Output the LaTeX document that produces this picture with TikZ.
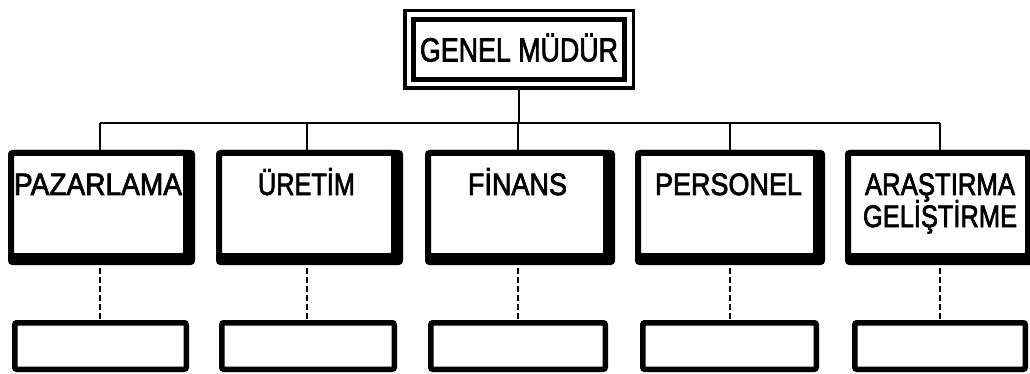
\documentclass[tikz,border=0pt]{standalone}
\usepackage{graphicx}
\usepackage{fontspec}
\setmainfont{Liberation Sans}
\newfontfamily\lsn[FakeBold=2.5]{Liberation Sans}
\newcommand\fitw[2]{\resizebox{#1}{\height}{#2}}
\usetikzlibrary{backgrounds,calc}
\begin{document}
\begin{tikzpicture}[x=1pt,y=-1pt,
  dept/.style={draw, fill=white, line width=6pt, rounded corners=3pt, minimum height=103pt, inner sep=0pt},
  sub/.style={draw, fill=white, line width=5.5pt, rounded corners=2pt, minimum height=46.5pt, inner sep=0pt},
  lbl/.style={font=\lsn\fontsize{31}{32}\selectfont, anchor=base, inner sep=0pt},
  link/.style={line width=2.2pt},
  dlink/.style={line width=2.4pt, dash pattern=on 6pt off 3pt}]
\useasboundingbox (0,0) rectangle (1030,374);

% top box
\node[draw, line width=3.5pt, minimum width=228.5pt, minimum height=77.5pt, inner sep=0pt,
      font=\lsn\fontsize{33.5}{34}\selectfont, text height=24pt, text depth=0pt] (gm) at (519,49.5) {\fitw{198pt}{GENEL MÜDÜR}};
\draw[line width=5pt] ([shift={(10.5pt,-10.5pt)}]gm.north west) rectangle ([shift={(-10.5pt,10.5pt)}]gm.south east);

% department boxes
\node[dept, minimum width=175pt] (p1) at (98.5,204.5) {};
\node[dept, minimum width=175pt] (p2) at (306.5,204.5) {};
\node[dept, minimum width=178pt] (p3) at (517,204.5) {};
\node[dept, minimum width=178pt] (p4) at (727,204.5) {};
\node[dept, minimum width=180pt] (p5) at (938,204.5) {};

\begin{scope}[on background layer]
\foreach \i in {1,...,5}
  \fill[rounded corners=4pt] (p\i.north west) rectangle ([shift={(6pt,-6pt)}]p\i.south east);
\end{scope}

% labels
\node[lbl] (t1) at (98,195) {\fitw{168pt}{PAZARLAMA}};
\node[lbl] (t2) at (306.5,195) {\fitw{97pt}{ÜRETİM}};
\node[lbl] (t3) at (517.5,195) {\fitw{99pt}{FİNANS}};
\node[lbl] (t4) at (728.5,195) {\fitw{147pt}{PERSONEL}};
\node[lbl] (t5a) at (940,195) {\fitw{150pt}{ARAŞTIRMA}};
\node[lbl] (t5b) at (940,227) {\fitw{154pt}{GELİŞTİRME}};

% bottom boxes
\node[sub, minimum width=171.5pt] (q1) at (100.5,346) {};
\node[sub, minimum width=172.5pt] (q2) at (308,346) {};
\node[sub, minimum width=174.5pt] (q3) at (518,346) {};
\node[sub, minimum width=173.5pt] (q4) at (729.5,346) {};
\node[sub, minimum width=170.5pt] (q5) at (940,346) {};

% bus
\coordinate (b1) at (100,123);
\coordinate (b2) at (307,123);
\coordinate (b3) at (518,123);
\coordinate (b4) at (730,123);
\coordinate (b5) at (940,123);
\draw[line width=2.5pt] (b1) -- (b5);
\draw[line width=2.5pt] (gm.south) -- (gm.south |- b3);

\foreach \i in {1,...,5} {
  \draw[link] (b\i) -- (b\i |- p\i.north);
  \draw[dlink] (b\i |- p\i.south) -- (b\i |- q\i.north);
}
\end{tikzpicture}
\end{document}
